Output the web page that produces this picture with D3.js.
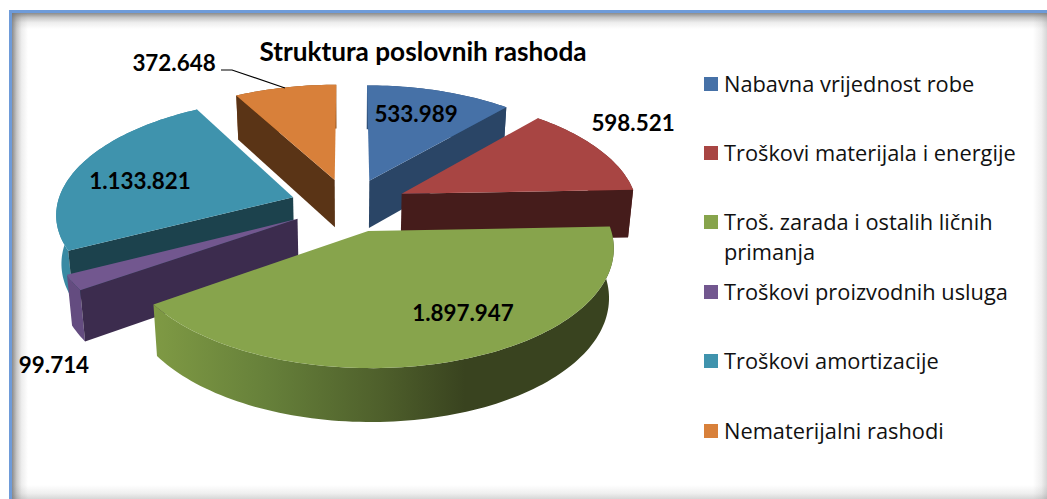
<!DOCTYPE html>
<html>
<head>
<meta charset="utf-8">
<script src="https://cdn.jsdelivr.net/npm/d3@7"></script>
<style>
html, body { margin: 0; padding: 0; background: #fff; }
svg { display: block; }
</style>
</head>
<body>
<div id="chart"></div>
<script>
// podaci
var categories = ["Nabavna vrijednost robe", "Troškovi materijala i energije", "Troš. zarada i ostalih ličnih primanja", "Troškovi proizvodnih usluga", "Troškovi amortizacije", "Nematerijalni rashodi"];
var values = [533989, 598521, 1897947, 99714, 1133821, 372648];
var valueLabels = ["533.989", "598.521", "1.897.947", "99.714", "1.133.821", "372.648"];
var topColors = ["#4671a7", "#a84543", "#87a44c", "#72578f", "#3f93ad", "#d8803a"];
var faceColors = ["#2a4566", "#451c1b", "#39431f", "#3c2c4e", "#1c424d", "#5a3416"];
var sideColors = ["#2f5079", "#6b2a28", "#7b9642", "#644c80", "#398aa3", "#8a4f1f"];

var width = 1047, height = 499;
var cx = 349, cy = 205;
var radiusX = 236, radiusY = 113, depth = 49;
var explodeX = 0.25, explodeY = 0.235;
var persp = 0.13, perspY = 0.125;

var svg = d3.select("#chart").append("svg")
	.attr("width", width)
	.attr("height", height);
var defs = svg.append("defs");

// okvir sa sjenkom
function fade(id, x1, y1, x2, y2, stops) {
	var g = defs.append("linearGradient").attr("id", id)
		.attr("x1", x1).attr("y1", y1).attr("x2", x2).attr("y2", y2);
	stops.forEach(function (s) {
		g.append("stop").attr("offset", s[0]).attr("stop-color", "#777").attr("stop-opacity", s[1]);
	});
}
var strong = [[0, 0.85], [0.3, 0.4], [0.6, 0.13], [1, 0]];
var weak = [[0, 0.3], [0.4, 0.12], [1, 0]];
fade("shTop", 0, 0, 0, 1, strong);
fade("shLeft", 0, 0, 1, 0, strong);
fade("shRight", 1, 0, 0, 0, weak);
fade("shBottom", 0, 1, 0, 0, weak);
svg.append("rect").attr("x", 12).attr("y", 13).attr("width", width - 12).attr("height", 16).attr("fill", "url(#shTop)");
svg.append("rect").attr("x", 12).attr("y", 13).attr("width", 16).attr("height", height - 13).attr("fill", "url(#shLeft)");
svg.append("rect").attr("x", width - 14).attr("y", 13).attr("width", 14).attr("height", height - 13).attr("fill", "url(#shRight)");
svg.append("rect").attr("x", 12).attr("y", height - 14).attr("width", width - 12).attr("height", 14).attr("fill", "url(#shBottom)");
svg.append("rect").attr("x", 9).attr("y", 10).attr("width", width - 9).attr("height", 3).attr("fill", "#6e9bd9");
svg.append("rect").attr("x", 9).attr("y", 10).attr("width", 3).attr("height", height - 10).attr("fill", "#6e9bd9");

var pie = d3.pie().sort(null).value(function (d) { return d; });
var arcs = pie(values);

// projekcija: (u, v) u ravni kolača, z = 0 gore, z = 1 dole
function project(u, v, z) {
	var shrink = 1 - 0.018 * z;
	var sx = shrink / (1 - persp * v), sy = shrink / (1 - perspY * v);
	return [cx + u * radiusX * sx, cy + v * radiusY * sy + z * depth * sy];
}
function unit(a) { return [Math.sin(a), -Math.cos(a)]; }
function apex(d) {
	var m = unit((d.startAngle + d.endAngle) / 2);
	return [m[0] * explodeX, m[1] * explodeY];
}
function rim(d, a) {
	var o = apex(d), p = unit(a);
	return [o[0] + p[0], o[1] + p[1]];
}
function rimPoints(d, z) {
	var n = Math.max(6, Math.ceil((d.endAngle - d.startAngle) * 40));
	return d3.range(n + 1).map(function (i) {
		var r = rim(d, d.startAngle + (d.endAngle - d.startAngle) * i / n);
		return project(r[0], r[1], z);
	});
}
var line = d3.line();

// zeleni omotač ima prelaz
var sideGrad = defs.append("linearGradient").attr("id", "greenSide")
	.attr("gradientUnits", "userSpaceOnUse")
	.attr("x1", 153).attr("y1", 0).attr("x2", 612).attr("y2", 0);
[[0, "#7f9a44"], [0.25, "#66803a"], [0.5, "#4e5f2b"], [0.68, "#39431f"], [1, "#39431f"]].forEach(function (s) {
	sideGrad.append("stop").attr("offset", s[0]).attr("stop-color", s[1]);
});

// redoslijed crtanja: od nazad ka naprijed
var order = [5, 0, 4, 1, 3, 2];
var slices = svg.selectAll("g.slice")
	.data(order.map(function (i) { return Object.assign({ idx: i }, arcs[i]); }))
	.enter().append("g").attr("class", "slice");

slices.each(function (d) {
	var g = d3.select(this), o = apex(d);
	var up = rimPoints(d, 0), dn = rimPoints(d, 1).reverse();
	g.append("path")
		.attr("d", line(up.concat(dn)) + "Z")
		.attr("fill", d.idx === 2 ? "url(#greenSide)" : sideColors[d.idx]);
	// samo strane okrenute ka posmatraču
	[[d.startAngle, -Math.PI / 2], [d.endAngle, Math.PI / 2]].forEach(function (f) {
		if (unit(f[0] + f[1])[1] < 0.01) return;
		var r = rim(d, f[0]);
		g.append("path")
			.attr("d", line([project(o[0], o[1], 0), project(r[0], r[1], 0), project(r[0], r[1], 1), project(o[0], o[1], 1)]) + "Z")
			.attr("fill", faceColors[d.idx]);
	});
	g.append("path")
		.attr("d", line([project(o[0], o[1], 0)].concat(up)) + "Z")
		.attr("fill", topColors[d.idx]);
});

// linija do oznake
svg.append("path")
	.attr("d", line([[221, 70], [232, 70], [285, 88]]))
	.attr("fill", "none").attr("stroke", "#000").attr("stroke-width", 1.2);

// oznake vrijednosti
var labelX = [416, 633, 463, 54, 140, 174];
var labelY = [114, 123, 313, 365, 181, 63];
svg.selectAll("text.val").data(valueLabels).enter().append("text")
	.attr("class", "val")
	.attr("x", function (d, i) { return labelX[i]; })
	.attr("y", function (d, i) { return labelY[i]; })
	.attr("dy", "0.35em")
	.attr("text-anchor", "middle")
	.style("font-family", "Lato")
	.style("font-weight", "bold")
	.style("font-size", "22.4px")
	.style("fill", "#000")
	.text(function (d) { return d; });

svg.append("text")
	.attr("x", 423).attr("y", 52)
	.attr("dy", "0.35em")
	.attr("text-anchor", "middle")
	.style("font-family", "Lato")
	.style("font-weight", "bold")
	.style("font-size", "26.2px")
	.style("fill", "#000")
	.text("Struktura poslovnih rashoda");

// legenda
var legendY = [84, 153, 222, 292, 361, 431];
var legendLines = [[categories[0]], [categories[1]], ["Troš. zarada i ostalih ličnih", "primanja"], [categories[3]], [categories[4]], [categories[5]]];
var legend = svg.selectAll("g.leg").data(legendLines).enter().append("g").attr("class", "leg");
legend.append("rect")
	.attr("x", 704)
	.attr("y", function (d, i) { return legendY[i] - 7; })
	.attr("width", 14).attr("height", 14)
	.attr("fill", function (d, i) { return topColors[i]; });
legend.each(function (d, i) {
	d.forEach(function (t, j) {
		d3.select(this).append("text")
			.attr("x", 724)
			.attr("y", legendY[i] + j * 30)
			.attr("dy", "0.35em")
			.style("font-family", "Open Sans")
			.style("font-size", "21.8px")
			.style("fill", "#111")
			.text(t);
	}, this);
});
</script>
</body>
</html>
